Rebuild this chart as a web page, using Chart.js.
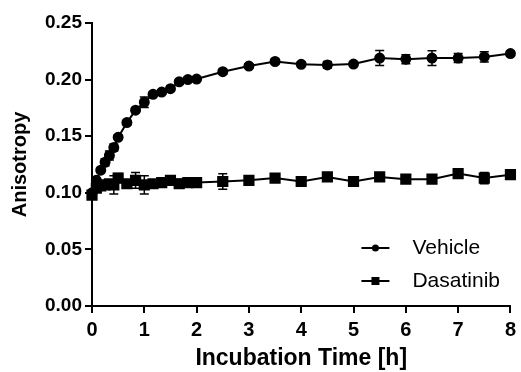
<!DOCTYPE html>
<html>
<head>
<meta charset="utf-8">
<script src="https://cdn.jsdelivr.net/npm/chart.js@4.4.0/dist/chart.umd.min.js"></script>
<style>
  html, body { margin: 0; padding: 0; background: #fff; }
  #wrap { width: 521px; height: 372px; }
</style>
</head>
<body>
<div id="wrap"><canvas id="anis"></canvas></div>
<script>
// incubation time in hours
const hours = [0, 0.083, 0.167, 0.25, 0.333, 0.417, 0.5, 0.667, 0.833, 1, 1.167, 1.333, 1.5, 1.667, 1.833, 2,
  2.5, 3, 3.5, 4, 4.5, 5, 5.5, 6, 6.5, 7, 7.5, 8];
const vehicle = [0.100, 0.111, 0.120, 0.127, 0.133, 0.140, 0.149, 0.162, 0.173, 0.180, 0.187, 0.189, 0.192, 0.198, 0.200, 0.2005,
  0.207, 0.212, 0.216, 0.2135, 0.213, 0.2137, 0.219, 0.218, 0.219, 0.219, 0.220, 0.223];
const vehicleErr = [0.002, 0.002, 0.002, 0.003, 0.004, 0.003, 0.002, 0.002, 0.002, 0.0047, 0.002, 0.002, 0.002, 0.002, 0.002, 0.002,
  0.002, 0.002, 0.002, 0.002, 0.003, 0.002, 0.0066, 0.004, 0.0065, 0.004, 0.0045, 0.002];
const dasatinib = [0.098, 0.104, 0.106, 0.107, 0.108, 0.107, 0.113, 0.108, 0.111, 0.107, 0.108, 0.109, 0.111, 0.108, 0.109, 0.109,
  0.110, 0.111, 0.113, 0.110, 0.114, 0.110, 0.114, 0.112, 0.112, 0.117, 0.113, 0.116];
const dasatinibErr = [0.002, 0.002, 0.002, 0.002, 0.002, 0.008, 0.004, 0.002, 0.007, 0.008, 0.002, 0.002, 0.002, 0.004, 0.002, 0.002,
  0.0068, 0.002, 0.002, 0.002, 0.002, 0.002, 0.002, 0.002, 0.002, 0.002, 0.005, 0.002];
const seriesNames = ['Vehicle', 'Dasatinib'];
const xTicks = [0, 1, 2, 3, 4, 5, 6, 7, 8];
const yTicks = [0, 0.05, 0.10, 0.15, 0.20, 0.25];

const FONT = '"Liberation Sans", Arial, sans-serif';
const toPts = (ys) => hours.map((h, i) => ({ x: h, y: ys[i] }));

// vertical error bars with caps
const errorBars = {
  id: 'errorBars',
  afterDatasetsDraw(chart) {
    const { ctx, scales: { x, y } } = chart;
    ctx.save();
    ctx.strokeStyle = '#000';
    ctx.lineWidth = 1.5;
    chart.data.datasets.forEach(ds => {
      ds.errors.forEach((e, i) => {
        const px = x.getPixelForValue(ds.data[i].x);
        const top = y.getPixelForValue(ds.data[i].y + e);
        const bot = y.getPixelForValue(ds.data[i].y - e);
        ctx.beginPath();
        ctx.moveTo(px, top); ctx.lineTo(px, bot);
        ctx.moveTo(px - 4.5, top); ctx.lineTo(px + 4.5, top);
        ctx.moveTo(px - 4.5, bot); ctx.lineTo(px + 4.5, bot);
        ctx.stroke();
      });
    });
    ctx.restore();
  }
};

// legend inside the plot, lower right
const insideLegend = {
  id: 'insideLegend',
  afterDraw(chart) {
    const { ctx, chartArea } = chart;
    ctx.save();
    chart.data.datasets.forEach((ds, i) => {
      const yy = chartArea.bottom - 58 + i * 33;
      const x0 = chartArea.right - 149;
      ctx.strokeStyle = '#000';
      ctx.lineWidth = 2;
      ctx.beginPath();
      ctx.moveTo(x0, yy); ctx.lineTo(x0 + 28, yy);
      ctx.stroke();
      ctx.fillStyle = '#000';
      if (ds.pointStyle === 'rect') {
        ctx.fillRect(x0 + 10, yy - 4, 8, 8);
      } else {
        ctx.beginPath();
        ctx.arc(x0 + 14, yy, 3.5, 0, Math.PI * 2);
        ctx.fill();
      }
      ctx.font = '21px ' + FONT;
      ctx.textBaseline = 'middle';
      ctx.fillText(ds.label, x0 + 51, yy);
    });
    ctx.restore();
  }
};

new Chart(document.getElementById('anis'), {
  type: 'scatter',
  data: {
    datasets: [
      {
        label: seriesNames[0],
        data: toPts(vehicle),
        errors: vehicleErr,
        showLine: true,
        borderColor: '#000',
        backgroundColor: '#000',
        borderWidth: 2,
        pointStyle: 'circle',
        pointRadius: 4.5
      },
      {
        label: seriesNames[1],
        data: toPts(dasatinib),
        errors: dasatinibErr,
        showLine: true,
        borderColor: '#000',
        backgroundColor: '#000',
        borderWidth: 2,
        pointStyle: 'rect',
        pointRadius: 6.5
      }
    ]
  },
  options: {
    responsive: true,
    maintainAspectRatio: false,
    animation: false,
    clip: false,
    layout: { padding: { top: 23, right: 9, left: 0, bottom: 0 } },
    plugins: {
      legend: { display: false },
      tooltip: { enabled: false }
    },
    scales: {
      x: {
        type: 'linear',
        min: 0,
        max: 8,
        afterFit: s => { s.height = 66; },
        afterBuildTicks: s => { s.ticks = xTicks.map(v => ({ value: v })); },
        grid: { drawOnChartArea: false, drawTicks: true, tickLength: 7, color: '#000', lineWidth: 2 },
        border: { color: '#000', width: 2 },
        ticks: { color: '#000', padding: 5, maxRotation: 0, font: { family: FONT, size: 20, weight: 'bold' } },
        title: {
          display: true,
          text: 'Incubation Time [h]',
          color: '#000',
          padding: { top: 0, bottom: 0 },
          font: { family: FONT, size: 23, weight: 'bold' }
        }
      },
      y: {
        min: 0,
        max: 0.25,
        afterFit: s => { s.width = 92; },
        afterBuildTicks: s => { s.ticks = yTicks.map(v => ({ value: v })); },
        grid: { drawOnChartArea: false, drawTicks: true, tickLength: 7, color: '#000', lineWidth: 2 },
        border: { color: '#000', width: 2 },
        ticks: {
          color: '#000',
          padding: 3,
          callback: v => v.toFixed(2),
          font: { family: FONT, size: 19, weight: 'bold' }
        },
        title: {
          display: true,
          text: 'Anisotropy',
          color: '#000',
          padding: { top: 8, bottom: 0 },
          font: { family: FONT, size: 20, weight: 'bold' }
        }
      }
    }
  },
  plugins: [errorBars, insideLegend]
});
</script>
</body>
</html>
